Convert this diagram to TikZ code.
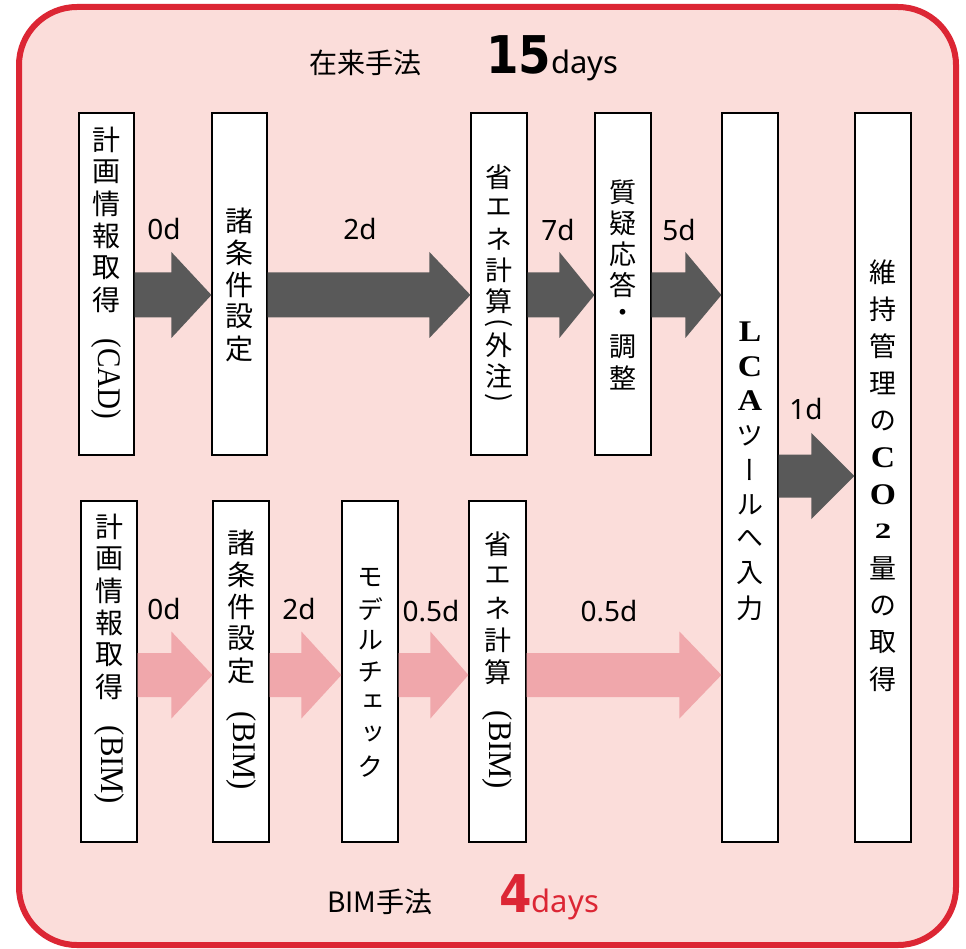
\documentclass[tikz,border=0pt]{standalone}
\usepackage{fontspec}
\usepackage{graphicx}
\usetikzlibrary{calc}
\setmainfont{Noto Sans}
\newfontfamily\jp{Noto Sans CJK JP}
\newfontfamily\jpv[RawFeature=+vert]{Noto Sans CJK JP}
\newfontfamily\ser{Liberation Serif}
\newfontfamily\bignum{DejaVu Sans}
\definecolor{bgpink}{RGB}{251,221,218}
\definecolor{framered}{RGB}{220,38,52}
\definecolor{arrowgray}{RGB}{89,89,89}
\definecolor{arrowpink}{RGB}{240,167,171}
\newcommand\cell[2]{\hbox to 50pt{\hss\vbox to #1pt{\vss\hbox{#2}\vss}\hss}}
\newcommand\rcell[2]{\hbox to 50pt{\hss\vbox{\kern#1pt\hbox{#2}}\hss}}
\newcommand\C[1]{\cell{\pitch}{#1}}
\newcommand\vt[1]{\vbox{\offinterlineskip #1}}
\newcommand\rotp[2]{\rotatebox{-90}{\jp\fontsize{#1}{#1}\selectfont #2}}
\newcommand\rotlat[2]{\rotatebox{-90}{\ser\fontsize{33}{33}\selectfont\scalebox{#1}[1]{#2}}}
\newcommand\SL[1]{{\ser\bfseries\fontsize{30}{30}\selectfont\scalebox{1.12}[1]{#1}}}
\newcommand\SN[1]{{\ser\bfseries\fontsize{22}{22}\selectfont\scalebox{1.5}[1]{#1}}}
% style, from, to, row, head length, shaft half, head half
\newcommand\fatarrow[7]{%
  \fill[#1] ($(#2.east|-#4)+(0,-#6)$) -- ($(#3.west|-#4)+(-#5,-#6)$)
    -- ($(#3.west|-#4)+(-#5,-#7)$) -- (#3.west|-#4)
    -- ($(#3.west|-#4)+(-#5,#7)$) -- ($(#3.west|-#4)+(-#5,#6)$)
    -- ($(#2.east|-#4)+(0,#6)$) -- cycle;}
\tikzset{
  box/.style={draw=black, line width=1.2pt, fill=white, inner sep=0pt,
    minimum width=55pt},
  vtext/.style={inner sep=0pt, font=\jpv\fontsize{28}{32}\selectfont},
  dlabel/.style={anchor=base, inner sep=0pt, font=\fontsize{28}{32}\selectfont},
}
\begin{document}
\begin{tikzpicture}[x=1pt,y=-1pt]
\useasboundingbox (0,0) rectangle (966,949);
\fill[white] (0,0) rectangle (966,949);
\draw[framered, line width=6pt, fill=bgpink, rounded corners=58pt] (19,7) rectangle (956,945);

% row coordinates
\coordinate (r1) at (0,295);
\coordinate (r2) at (0,675);
\coordinate (r3) at (0,476);

% top row boxes
\node[box, minimum height=342pt] (a1) at (106.5,284) {};
\node[box, minimum height=342pt] (a2) at (239.5,284) {};
\node[box, minimum height=342pt, minimum width=56pt] (a3) at (499,284) {};
\node[box, minimum height=342pt, minimum width=56pt] (a4) at (623,284) {};
\node[box, minimum height=729pt, minimum width=56pt] (lca) at (750,477.5) {};
\node[box, minimum height=729pt, minimum width=56pt] (co2) at (883,477.5) {};
% bottom row boxes
\node[box, minimum height=341pt, minimum width=56pt] (b1) at (109,671.5) {};
\node[box, minimum height=341pt, minimum width=56pt] (b2) at (241,671.5) {};
\node[box, minimum height=341pt, minimum width=56pt] (b3) at (370,671.5) {};
\node[box, minimum height=341pt, minimum width=57pt] (b4) at (497.5,671.5) {};

% box texts
\node[vtext] (ta1) at (106.5,271.5) {\def\pitch{32}\vt{\C{計}\C{画}\C{情}\C{報}\C{取}\C{得}\rcell{23}{\rotlat{0.88}{(CAD)}}}};
\node[vtext] (ta2) at (239.5,284.5) {\def\pitch{32}\vt{\C{諸}\C{条}\C{件}\C{設}\C{定}}};
\node[vtext, font=\jpv\fontsize{27}{31}\selectfont] (ta3) at (499,283) {\def\pitch{31}\vt{\C{省}\C{エ}\C{ネ}\C{計}\C{算}\cell{13}{\rotp{27}{(}}\C{外}\C{注}\cell{13}{\rotp{27}{)}}}};
\node[vtext, font=\jpv\fontsize{27}{31}\selectfont] (ta4) at (623,285) {\def\pitch{31}\vt{\C{質}\C{疑}\C{応}\C{答}\C{・}\C{調}\C{整}}};
\node[vtext, font=\jpv\fontsize{27}{31}\selectfont] (tlca) at (750,470) {\def\pitch{34.5}\vt{\C{\SL{L}}\C{\SL{C}}\C{\SL{A}}\C{ツ}\C{ー}\C{ル}\C{へ}\C{入}\C{力}}};
\node[vtext, font=\jpv\fontsize{27}{31}\selectfont] (tco2) at (883,476) {\def\pitch{37}\vt{\C{維}\C{持}\C{管}\C{理}\C{の}\C{\SL{C}}\C{\SL{O}}\C{\SN{2}}\C{量}\C{の}\C{取}\C{得}}};

\node[vtext] (tb1) at (109,657.5) {\def\pitch{32}\vt{\C{計}\C{画}\C{情}\C{報}\C{取}\C{得}\rcell{23}{\rotlat{0.93}{(BIM)}}}};
\node[vtext] (tb2) at (241,658.5) {\def\pitch{32}\vt{\C{諸}\C{条}\C{件}\C{設}\C{定}\rcell{25}{\rotlat{0.93}{(BIM)}}}};
\node[vtext, font=\jpv\fontsize{26}{31}\selectfont] (tb3) at (370,672) {\def\pitch{31.5}\vt{\C{モ}\C{デ}\C{ル}\C{チ}\C{ェ}\C{ッ}\C{ク}}};
\node[vtext, font=\jpv\fontsize{27}{31}\selectfont] (tb4) at (497.5,658.5) {\def\pitch{32}\vt{\C{省}\C{エ}\C{ネ}\C{計}\C{算}\rcell{23}{\rotlat{0.93}{(BIM)}}}};

% arrows top row
\fatarrow{arrowgray}{a1}{a2}{r1}{40}{22.5}{43}
\fatarrow{arrowgray}{a2}{a3}{r1}{41}{22.5}{43}
\fatarrow{arrowgray}{a3}{a4}{r1}{35}{22.5}{43}
\fatarrow{arrowgray}{a4}{lca}{r1}{36}{22.5}{43}
\fatarrow{arrowgray}{lca}{co2}{r3}{43}{21.5}{43}
% arrows bottom row
\fatarrow{arrowpink}{b1}{b2}{r2}{41}{22}{43.5}
\fatarrow{arrowpink}{b2}{b3}{r2}{40}{22}{43.5}
\fatarrow{arrowpink}{b3}{b4}{r2}{38}{22}{43.5}
\fatarrow{arrowpink}{b4}{lca}{r2}{42}{22}{43.5}

% arrow labels
\node[dlabel] (l1) at (164,240) {0d};
\node[dlabel] (l2) at (360,240) {2d};
\node[dlabel] (l3) at (558,241) {7d};
\node[dlabel] (l4) at (679,241) {5d};
\node[dlabel] (l5) at (806,419) {1d};
\node[dlabel] (l6) at (164,619) {0d};
\node[dlabel] (l7) at (299,619) {2d};
\node[dlabel] (l8) at (431,621) {0.5d};
\node[dlabel] (l9) at (609,621) {0.5d};

% titles
\node[anchor=base west, inner sep=0pt, font=\jp\fontsize{28}{32}\selectfont] (title1) at (309,74) {在来手法};
\node[anchor=base west, inner sep=0pt] (days1) at (486,74) {{\bignum\bfseries\fontsize{52}{56}\selectfont\scalebox{0.9}[1]{15}}{\fontsize{31}{34}\selectfont days}};
\node[anchor=base west, inner sep=0pt, font=\jp\fontsize{28}{32}\selectfont] (title2) at (327,912) {BIM手法};
\node[anchor=base west, inner sep=0pt, text=framered] (days2) at (499,912) {{\bignum\bfseries\fontsize{52}{56}\selectfont\scalebox{0.9}[1]{4}}{\fontsize{31}{34}\selectfont days}};
\end{tikzpicture}
\end{document}
